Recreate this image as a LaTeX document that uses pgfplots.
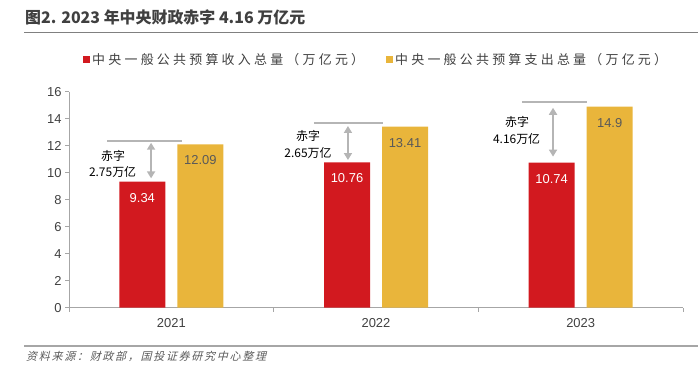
\documentclass[border=0pt]{standalone}
\usepackage{pgfplots}
\pgfplotsset{compat=1.18}
\usetikzlibrary{arrows.meta}
\usepackage{fontspec}
\setmainfont{Liberation Sans}
\newfontfamily\cjk{Noto Sans CJK SC}
\newfontfamily\cjkls[LetterSpace=25]{Noto Sans CJK SC}
\newfontfamily\cjkit[FakeSlant=0.25,LetterSpace=16]{Noto Sans CJK SC}
\definecolor{cred}{HTML}{D2191F}
\definecolor{cyel}{HTML}{E9B53B}
\definecolor{txtgray}{HTML}{404040}
\definecolor{axgray}{HTML}{A6A6A6}
\definecolor{anngray}{HTML}{B5B5B5}
\definecolor{lblgray}{HTML}{595959}

\begin{document}
\begin{tikzpicture}
\useasboundingbox (0,0) rectangle (698bp,368bp);
% title
\node[anchor=west, inner sep=0, text=txtgray, font=\cjk\bfseries\fontsize{16}{16}\selectfont] at (25bp,351bp) {图2. 2023 年中央财政赤字 4.16 万亿元};
\draw[color=gray, line width=1.5bp] (24bp,335.5bp) -- (698bp,335.5bp);
% footer
\draw[color=axgray, line width=2bp] (24bp,21.5bp) -- (698bp,21.5bp);
\node[anchor=west, inner sep=0, text=lblgray, font=\cjkit\fontsize{11}{11}\selectfont] at (26bp,12bp) {资料来源：财政部，国投证券研究中心整理};

\begin{axis}[
  at={(69bp,60.3bp)}, anchor=south west,
  scale only axis, width=614bp, height=216bp,
  xmin=-0.5, xmax=2.5, ymin=0, ymax=16,
  axis lines=left,
  axis line style={-, draw=axgray, line width=0.8bp},
  ytick={0,2,...,16},
  xtick={-0.5,0.5,1.5,2.5},
  xticklabels={2021,2022,2023},
  x tick label as interval,
  tick align=outside, major tick length=4bp,
  tick style={draw=axgray, line width=0.8bp},
  /pgf/number format/assume math mode=true,
  ticklabel style={font=\fontsize{13}{13}\selectfont, text=txtgray},
  xticklabel style={yshift=-3bp},
  clip=false,
  legend columns=2,
  legend style={at={(axis description cs:0.0228,1.147)}, anchor=west, draw=none,
    fill=none, inner sep=0pt, font=\cjkls\fontsize{13}{13}\selectfont, text=txtgray,
    /tikz/every even column/.append style={column sep=20bp}},
]
\addplot[ybar, fill=cred, draw=none, bar width=46bp, bar shift=-29bp,
  point meta=explicit symbolic, nodes near coords,
  nodes near coords style={anchor=center, xshift=-29bp, yshift=-16bp, text=white, font=\fontsize{13}{13}\selectfont},
  legend image code/.code={\fill[cred] (0bp,-3.5bp) rectangle (7bp,3.5bp);}]
  coordinates {(0,9.34)[9.34] (1,10.76)[10.76] (2,10.74)[10.74]};
\addlegendentry{中央一般公共预算收入总量（万亿元）}
\addplot[ybar, fill=cyel, draw=none, bar width=46bp, bar shift=29bp,
  point meta=explicit symbolic, nodes near coords,
  nodes near coords style={anchor=center, xshift=29bp, yshift=-16bp, text=lblgray, font=\fontsize{13}{13}\selectfont},
  legend image code/.code={\fill[cyel] (0bp,-3.5bp) rectangle (7bp,3.5bp);}]
  coordinates {(0,12.09)[12.09] (1,13.41)[13.41] (2,14.9)[14.9]};
\addlegendentry{中央一般公共预算支出总量（万亿元）}

% deficit annotations
\addplot[anngray, line width=1.8bp, no marks, forget plot] coordinates {(-0.314,12.35) (0.052,12.35)};
\addplot[anngray, line width=2.2bp, no marks, forget plot, {Triangle[width=8bp,length=7bp]}-{Triangle[width=8bp,length=7bp]}] coordinates {(-0.099,12.22) (-0.099,9.58)};
\addplot[anngray, line width=1.8bp, no marks, forget plot] coordinates {(0.697,13.68) (1.034,13.68)};
\addplot[anngray, line width=2.2bp, no marks, forget plot, {Triangle[width=8bp,length=7bp]}-{Triangle[width=8bp,length=7bp]}] coordinates {(0.863,13.46) (0.863,10.94)};
\addplot[anngray, line width=1.8bp, no marks, forget plot] coordinates {(1.713,15.24) (2.031,15.24)};
\addplot[anngray, line width=2.2bp, no marks, forget plot, {Triangle[width=8bp,length=7bp]}-{Triangle[width=8bp,length=7bp]}] coordinates {(1.865,14.81) (1.865,11.19)};

\node[font=\cjk\fontsize{12}{12}\selectfont, text=black] at (axis cs:-0.285,11.24) {赤字};
\node[font=\cjk\fontsize{12}{12}\selectfont, text=black] at (axis cs:-0.287,10.05) {2.75万亿};
\node[font=\cjk\fontsize{12}{12}\selectfont, text=black] at (axis cs:0.668,12.72) {赤字};
\node[font=\cjk\fontsize{12}{12}\selectfont, text=black] at (axis cs:0.668,11.46) {2.65万亿};
\node[font=\cjk\fontsize{12}{12}\selectfont, text=black] at (axis cs:1.689,13.76) {赤字};
\node[font=\cjk\fontsize{12}{12}\selectfont, text=black] at (axis cs:1.687,12.50) {4.16万亿};
\end{axis}
\end{tikzpicture}
\end{document}
